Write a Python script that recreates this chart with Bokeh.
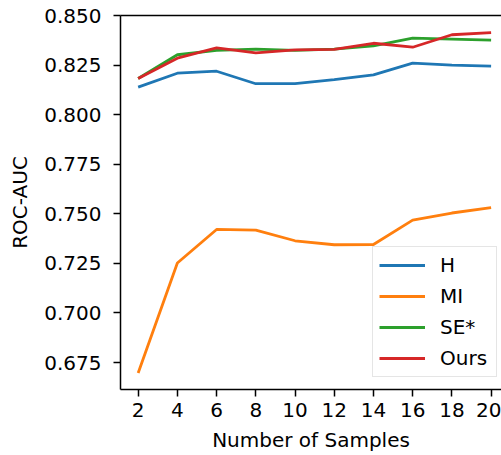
from bokeh.plotting import figure
from bokeh.models import (FixedTicker, NumeralTickFormatter, Range1d, Legend,
                          LegendItem, LinearAxis)
from bokeh.embed import file_html
from bokeh.resources import INLINE

samples = [2, 4, 6, 8, 10, 12, 14, 16, 18, 20]
h_vals = [0.8139, 0.8209, 0.8219, 0.8156, 0.8156, 0.8177, 0.8201, 0.8260, 0.8250, 0.8245]
mi_vals = [0.6697, 0.7252, 0.7421, 0.7418, 0.7364, 0.7344, 0.7345, 0.7468, 0.7504, 0.7531]
se_vals = [0.8182, 0.8302, 0.8324, 0.8330, 0.8324, 0.8330, 0.8347, 0.8386, 0.8381, 0.8376]
ours_vals = [0.8182, 0.8285, 0.8337, 0.8312, 0.8327, 0.8329, 0.8360, 0.8340, 0.8403, 0.8414]
series_names = ["H", "MI", "SE*", "Ours"]
colors = ["#1f77b4", "#ff7f0e", "#2ca02c", "#d62728"]
x_ticks = [2, 4, 6, 8, 10, 12, 14, 16, 18, 20]
y_ticks = [0.675, 0.700, 0.725, 0.750, 0.775, 0.800, 0.825, 0.850]

FONT = "DejaVu Sans"
FS = "20px"

p = figure(width=501, height=455, output_backend="svg", toolbar_location=None,
           x_range=Range1d(1.1, 20.53), y_range=Range1d(0.6614, 0.850),
           min_border_left=120, min_border_right=0, min_border_top=15,
           min_border_bottom=66)
p.outline_line_color = None
p.xgrid.visible = False
p.ygrid.visible = False
p.background_fill_color = "white"
p.border_fill_color = "white"

items = []
for name, vals, c in zip(series_names, [h_vals, mi_vals, se_vals, ours_vals], colors):
    r = p.line(samples, vals, line_color=c, line_width=2.8)
    items.append(LegendItem(label=name, renderers=[r]))

for ax in (p.xaxis[0], p.yaxis[0]):
    ax.axis_line_width = 1.5
    ax.major_tick_line_width = 1.5
    ax.major_tick_out = 7
    ax.major_tick_in = 0
    ax.minor_tick_line_color = None
    ax.major_label_text_font = FONT
    ax.major_label_text_font_size = FS
    ax.major_label_text_color = "black"
    ax.axis_label_text_font = FONT
    ax.axis_label_text_font_size = FS
    ax.axis_label_text_font_style = "normal"
    ax.axis_label_text_color = "black"
    ax.axis_line_color = "black"
    ax.major_tick_line_color = "black"

p.xaxis[0].ticker = FixedTicker(ticks=x_ticks)
p.yaxis[0].ticker = FixedTicker(ticks=y_ticks)
p.yaxis[0].formatter = NumeralTickFormatter(format="0.000")
p.xaxis[0].axis_label = "Number of Samples"
p.yaxis[0].axis_label = "ROC-AUC"
p.xaxis[0].major_label_standoff = 6
p.yaxis[0].major_label_standoff = 12
p.xaxis[0].axis_label_standoff = 8
p.yaxis[0].axis_label_standoff = 9

top = LinearAxis(ticker=FixedTicker(ticks=[]), axis_line_width=1.5,
                 axis_line_color="black", major_tick_line_color=None,
                 minor_tick_line_color=None, major_label_text_font_size="0px")
p.add_layout(top, "above")

legend = Legend(items=items, location=(252, 12))
legend.label_text_font = FONT
legend.label_text_font_size = FS
legend.label_text_color = "black"
legend.glyph_width = 46
legend.glyph_height = 20
legend.label_height = 20
legend.label_width = 50
legend.label_standoff = 15
legend.spacing = 7
legend.padding = 6
legend.margin = 0
legend.border_line_color = "#cccccc"
legend.border_line_width = 1.2
legend.background_fill_alpha = 0.8
p.add_layout(legend)

open("out.html", "w").write(file_html(p, INLINE))
